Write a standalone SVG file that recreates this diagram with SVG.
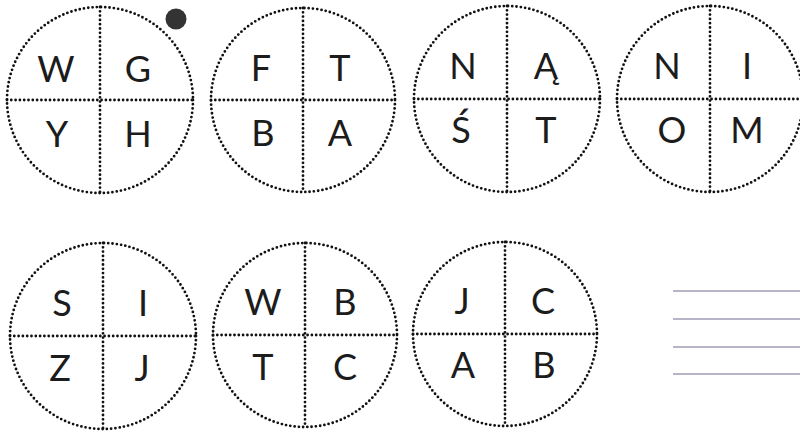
<svg xmlns="http://www.w3.org/2000/svg" width="800" height="431" viewBox="0 0 800 431">
<style>
.c{fill:none;stroke:#111;stroke-width:2.8;stroke-dasharray:0 4.3;stroke-linecap:round}
.t{font-family:Lato,"Open Sans",sans-serif;font-size:36px;fill:#1c1c1c;text-anchor:middle}
.r{stroke:#9c9cb4;stroke-width:1.6}
</style>
<rect width="800" height="431" fill="#fff"/>
<g id="node1">
<circle class="c" cx="100" cy="100" r="93"/>
<line class="c" x1="7" y1="100" x2="193" y2="100"/>
<line class="c" x1="100" y1="7" x2="100" y2="193"/>
<text class="t" x="56" y="82">W</text><text class="t" x="138" y="82">G</text>
<text class="t" x="57" y="147">Y</text><text class="t" x="138" y="147">H</text>
</g>
<circle id="dot" cx="176" cy="19" r="10.5" fill="#333"/>
<g id="node2">
<circle class="c" cx="303" cy="100" r="92"/>
<line class="c" x1="211" y1="100" x2="395" y2="100"/>
<line class="c" x1="303" y1="8" x2="303" y2="192"/>
<text class="t" x="261" y="81">F</text><text class="t" x="340" y="81">T</text>
<text class="t" x="263" y="146">B</text><text class="t" x="340" y="146">A</text>
</g>
<g id="node3">
<circle class="c" cx="507" cy="99" r="93"/>
<line class="c" x1="414" y1="99" x2="600" y2="99"/>
<line class="c" x1="507" y1="6" x2="507" y2="192"/>
<text class="t" x="463" y="79">N</text><text class="t" x="546" y="79">Ą</text>
<text class="t" x="461" y="143">Ś</text><text class="t" x="546" y="143">T</text>
</g>
<g id="node4">
<circle class="c" cx="710" cy="99" r="93"/>
<line class="c" x1="617" y1="99" x2="803" y2="99"/>
<line class="c" x1="710" y1="6" x2="710" y2="192"/>
<text class="t" x="667" y="79">N</text><text class="t" x="747" y="79">I</text>
<text class="t" x="672" y="143">O</text><text class="t" x="747" y="143">M</text>
</g>
<g id="node5">
<circle class="c" cx="103" cy="336" r="93"/>
<line class="c" x1="10" y1="336" x2="196" y2="336"/>
<line class="c" x1="103" y1="243" x2="103" y2="429"/>
<text class="t" x="62" y="316">S</text><text class="t" x="143" y="316">I</text>
<text class="t" x="60" y="381">Z</text><text class="t" x="142" y="381">J</text>
</g>
<g id="node6">
<circle class="c" cx="305" cy="335" r="92"/>
<line class="c" x1="213" y1="335" x2="397" y2="335"/>
<line class="c" x1="305" y1="243" x2="305" y2="427"/>
<text class="t" x="263" y="315">W</text><text class="t" x="345" y="315">B</text>
<text class="t" x="263" y="380">T</text><text class="t" x="345" y="380">C</text>
</g>
<g id="node7">
<circle class="c" cx="505" cy="334" r="92"/>
<line class="c" x1="413" y1="334" x2="597" y2="334"/>
<line class="c" x1="505" y1="242" x2="505" y2="426"/>
<text class="t" x="462" y="314">J</text><text class="t" x="543" y="314">C</text>
<text class="t" x="463" y="378">A</text><text class="t" x="544" y="378">B</text>
</g>
<g id="lines">
<line class="r" x1="673" y1="291" x2="800" y2="291"/>
<line class="r" x1="673" y1="319" x2="800" y2="319"/>
<line class="r" x1="673" y1="347" x2="800" y2="347"/>
<line class="r" x1="673" y1="374" x2="800" y2="374"/>
</g>
</svg>
